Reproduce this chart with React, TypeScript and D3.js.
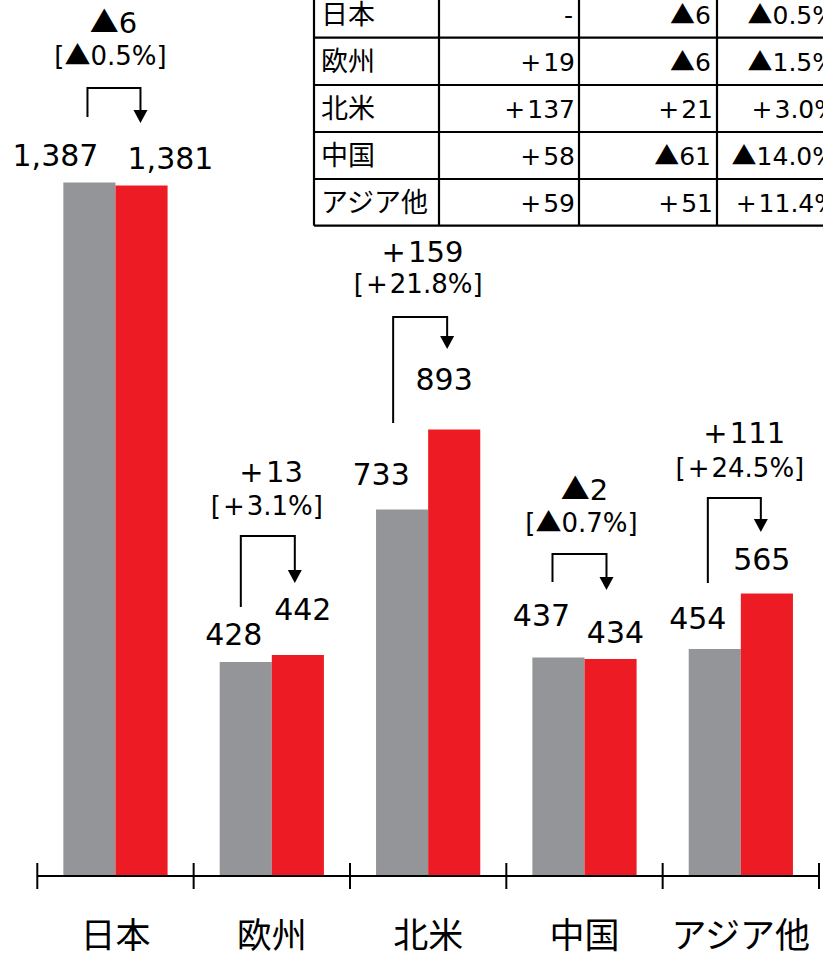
import React from "react";
import * as d3 from "d3";

// ---- data ----
const categories = ["日本", "欧州", "北米", "中国", "アジア他"];
const prevValues = [1387, 428, 733, 437, 454];
const currValues = [1381, 442, 893, 434, 565];
const prevLabels = ["1,387", "428", "733", "437", "454"];
const currLabels = ["1,381", "442", "893", "434", "565"];
const changeLabels = ["▲6", "＋13", "＋159", "▲2", "＋111"];
const pctLabels = ["[▲0.5%]", "[＋3.1%]", "[＋21.8%]", "[▲0.7%]", "[＋24.5%]"];

// table (partially visible at top right)
const tableRows = ["日本", "欧州", "北米", "中国", "アジア他"];
const tableCol2 = ["-", "＋19", "＋137", "＋58", "＋59"];
const tableCol3 = ["▲6", "▲6", "＋21", "▲61", "＋51"];
const tableCol4 = ["▲0.5%", "▲1.5%", "＋3.0%", "▲14.0%", "＋11.4%"];

// ---- layout (annotation placement, relative to band centre / bar tops) ----
const annot = [
  { pdx: -60, pdy: 16.5, cdx: 55, cdy: 16.5, chx: -2, chy: 33, pcx: -5, pcy: 65, ax1: -28, ax2: 25, atop: 88, abot: 117, atip: 123 },
  { pdx: -38, pdy: 17, cdx: 31, cdy: 35, chx: -3, chy: 482, pcx: -5, pcy: 515, ax1: -31, ax2: 23, atop: 536, abot: 607, atip: 583 },
  { pdx: -47, pdy: 24.5, cdx: 16, cdy: 39.5, chx: -8, chy: 262, pcx: -10, pcy: 293, ax1: -35, ax2: 19, atop: 317, abot: 423, atip: 349 },
  { pdx: -43, pdy: 31.5, cdx: 31, cdy: 16, chx: 0, chy: 500, pcx: -3, pcy: 532, ax1: -32, ax2: 22, atop: 554, abot: 582, atip: 590 },
  { pdx: -43, pdy: 20, cdx: 21, cdy: 23.5, chx: 1, chy: 443, pcx: -1, pcy: 477, ax1: -33, ax2: 20, atop: 498, abot: 583, atip: 532 },
];

const W = 823;
const H = 956;
const axisY = 876;
const x0 = 37.3;
const x1 = 819;
const GRAY = "#939598";
const RED = "#ED1C24";
const LATIN = "'DejaVu Sans', 'Noto Sans CJK JP', sans-serif";
const CJK = "'Noto Sans CJK JP', sans-serif";

function RichText(props: { x: number; y: number; size: number; anchor: string; text: string }) {
  const { x, y, size, anchor, text } = props;
  const parts: { t: string; kind: "tri" | "plus" | "latin" }[] = [];
  for (const ch of text) {
    const kind = ch === "▲" ? "tri" : ch === "＋" ? "plus" : "latin";
    const last = parts[parts.length - 1];
    if (last && last.kind === kind && kind === "latin") last.t += ch;
    else parts.push({ t: ch, kind });
  }
  const pad = size * 0.08;
  let padNext = 0;
  return (
    <text x={x} y={y} fontSize={size} textAnchor={anchor} fontFamily={LATIN} fill="#000">
      {parts.map((p, i) => {
        let dx = padNext;
        padNext = 0;
        if (p.kind === "plus") {
          dx += pad;
          padNext = pad;
          return (
            <tspan key={i} dx={dx} fontFamily={LATIN}>
              +
            </tspan>
          );
        }
        return (
          <tspan key={i} dx={dx || undefined} fontFamily={p.kind === "tri" ? CJK : LATIN}>
            {p.t}
          </tspan>
        );
      })}
    </text>
  );
}

export default function App() {
  const xBand = d3.scaleBand<string>().domain(categories).range([x0, x1]).padding(0);
  const y = d3.scaleLinear().domain([0, 1387]).range([axisY, axisY - 693.5]);
  const bw = xBand.bandwidth() / 3;
  const tickXs = categories.map((c) => xBand(c) as number).concat([x1]);

  // table geometry
  const colX = [314, 439, 579, 717, 842];
  const rowY = [-9.3, 37.7, 85, 132, 179, 225.7];

  return (
    <svg width={W} height={H} style={{ position: "absolute", left: 0, top: 0, background: "#fff" }}>
      {/* table */}
      <g>
        {rowY.map((ry, i) => (
          <line key={"h" + i} x1={colX[0]} x2={colX[4]} y1={ry} y2={ry} stroke="#000" strokeWidth={2.2} />
        ))}
        {colX.map((cx, i) => (
          <line key={"v" + i} x1={cx} x2={cx} y1={rowY[0]} y2={rowY[5]} stroke="#000" strokeWidth={2.2} />
        ))}
        {tableRows.map((r, i) => {
          const mid = (rowY[i] + rowY[i + 1]) / 2;
          return (
            <g key={r}>
              <text x={colX[0] + 7} y={mid + 9.5} fontSize={27} fontFamily={CJK}>
                {r}
              </text>
              <RichText x={colX[2] - 6} y={mid + 9.5} size={25} anchor="end" text={tableCol2[i]} />
              <RichText x={colX[3] - 6} y={mid + 9.5} size={25} anchor="end" text={tableCol3[i]} />
              <RichText x={colX[4] - 6} y={mid + 9.5} size={25} anchor="end" text={tableCol4[i]} />
            </g>
          );
        })}
      </g>

      {/* bars */}
      {categories.map((c, i) => {
        const cx = (xBand(c) as number) + xBand.bandwidth() / 2;
        return (
          <g key={c}>
            <rect x={cx - bw} y={y(prevValues[i])} width={bw} height={axisY - y(prevValues[i])} fill={GRAY} />
            <rect x={cx} y={y(currValues[i])} width={bw} height={axisY - y(currValues[i])} fill={RED} />
          </g>
        );
      })}

      {/* axis */}
      <line x1={x0} x2={x1} y1={axisY} y2={axisY} stroke="#000" strokeWidth={2} />
      {tickXs.map((tx, i) => (
        <line key={i} x1={tx} x2={tx} y1={axisY - 13} y2={axisY + 13} stroke="#000" strokeWidth={2} />
      ))}
      {categories.map((c) => {
        const cx = (xBand(c) as number) + xBand.bandwidth() / 2;
        return (
          <text key={c} x={cx} y={948} fontSize={35} textAnchor="middle" fontFamily={CJK} fill="#000">
            {c}
          </text>
        );
      })}

      {/* annotations */}
      {categories.map((c, i) => {
        const cx = (xBand(c) as number) + xBand.bandwidth() / 2;
        const a = annot[i];
        const ax1 = cx + a.ax1;
        const ax2 = cx + a.ax2;
        const headH = 13;
        const headW = 7;
        return (
          <g key={"a" + c}>
            <RichText x={cx + a.pdx} y={y(prevValues[i]) - a.pdy} size={30} anchor="middle" text={prevLabels[i]} />
            <RichText x={cx + a.cdx} y={y(currValues[i]) - a.cdy} size={30} anchor="middle" text={currLabels[i]} />
            <RichText x={cx + a.chx} y={a.chy} size={29} anchor="middle" text={changeLabels[i]} />
            <RichText x={cx + a.pcx} y={a.pcy} size={26} anchor="middle" text={pctLabels[i]} />
            <path
              d={`M${ax1},${a.abot} V${a.atop} H${ax2} V${a.atip - headH}`}
              fill="none"
              stroke="#000"
              strokeWidth={2}
            />
            <path
              d={`M${ax2 - headW},${a.atip - headH} L${ax2 + headW},${a.atip - headH} L${ax2},${a.atip} Z`}
              fill="#000"
            />
          </g>
        );
      })}
    </svg>
  );
}
